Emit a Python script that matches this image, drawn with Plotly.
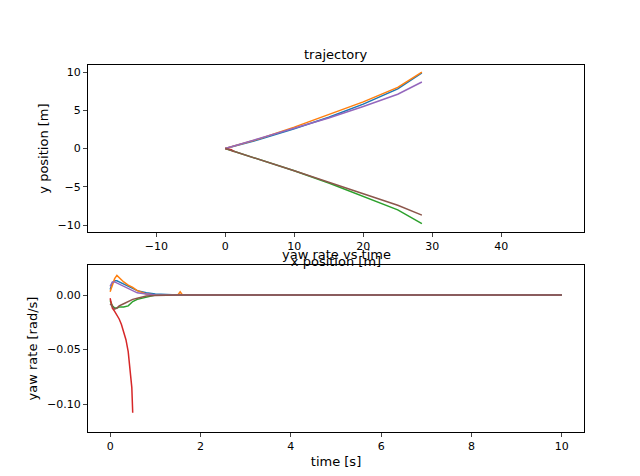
import plotly.graph_objects as go

colors = ["#1f77b4", "#ff7f0e", "#2ca02c", "#d62728", "#9467bd", "#8c564b"]

# trajectories (x, y) per run
traj_x = [0, 5, 10, 15, 20, 25, 28.5]
traj_y = [
    [0, 1.2, 2.6, 4.1, 5.8, 7.8, 9.9],
    [0, 1.3, 2.8, 4.4, 6.1, 8.0, 10.0],
    [0, -1.4, -2.9, -4.5, -6.2, -8.0, -9.8],
    None,
    [0, 1.3, 2.7, 4.0, 5.5, 7.1, 8.7],
    [0, -1.4, -2.9, -4.4, -5.9, -7.4, -8.7],
]
red_x = [0, 0.5, 0.9, 1.1, 1.3]
red_y = [0, -0.05, -0.15, -0.3, -0.4]

# yaw rates
t = [0, 0.05, 0.1, 0.15, 0.2, 0.3, 0.4, 0.5, 0.6, 0.8, 1.0, 1.5, 10]
t_orange = [0, 0.05, 0.1, 0.15, 0.2, 0.3, 0.4, 0.5, 0.6, 0.8, 1.0, 1.5, 1.55, 1.6, 10]
yaw = [
    [0.005, 0.011, 0.013, 0.013, 0.012, 0.010, 0.008, 0.006, 0.004, 0.002, 0.001, 0, 0],
    [0.003, 0.010, 0.015, 0.018, 0.016, 0.012, 0.009, 0.007, 0.004, 0.001, 0, 0, 0.003, 0, 0],
    [-0.005, -0.010, -0.012, -0.012, -0.011, -0.011, -0.010, -0.006, -0.004, -0.002, 0, 0, 0],
    None,
    [0.008, 0.012, 0.012, 0.011, 0.010, 0.008, 0.006, 0.004, 0.002, 0.001, 0, 0, 0],
    [-0.008, -0.011, -0.013, -0.012, -0.010, -0.008, -0.006, -0.004, -0.003, -0.001, -0.0005, 0, 0],
]
t_red = [0, 0.05, 0.1, 0.15, 0.2, 0.25, 0.3, 0.35, 0.4, 0.45, 0.48, 0.5]
yaw_red = [-0.003, -0.012, -0.015, -0.018, -0.022, -0.027, -0.033, -0.041, -0.052, -0.070, -0.085, -0.108]

fig = go.Figure()
for i, c in enumerate(colors):
    if i == 3:
        fig.add_trace(go.Scatter(x=red_x, y=red_y, mode="lines", line=dict(color=c, width=1.5), xaxis="x", yaxis="y"))
        fig.add_trace(go.Scatter(x=t_red, y=yaw_red, mode="lines", line=dict(color=c, width=1.5), xaxis="x2", yaxis="y2"))
    else:
        fig.add_trace(go.Scatter(x=traj_x, y=traj_y[i], mode="lines", line=dict(color=c, width=1.5), xaxis="x", yaxis="y"))
        tt = t_orange if i == 1 else t
        fig.add_trace(go.Scatter(x=tt, y=yaw[i], mode="lines", line=dict(color=c, width=1.5), xaxis="x2", yaxis="y2"))

ax = dict(showline=True, linecolor="black", mirror=True, ticks="outside", ticklen=4,
          showgrid=False, zeroline=False, tickfont=dict(size=11), automargin=False)
fig.update_layout(
    width=640, height=476, margin=dict(l=0, r=0, t=0, b=0),
    plot_bgcolor="white", paper_bgcolor="white", showlegend=False,
    font=dict(family="DejaVu Sans", color="black", size=11),
    xaxis=dict(ax, domain=[0.125, 0.9], range=[-19.9, 52], tickvals=[-10, 0, 10, 20, 30, 40],
               title=dict(text="x position [m]", standoff=4), anchor="y"),
    yaxis=dict(ax, domain=[0.5294, 0.880], range=[-10.9, 10.9], tickvals=[-10, -5, 0, 5, 10],
               title=dict(text="y position [m]", standoff=6), anchor="x"),
    xaxis2=dict(ax, domain=[0.125, 0.9], range=[-0.49, 10.49], tickvals=[0, 2, 4, 6, 8, 10],
                title=dict(text="time [s]", standoff=4), anchor="y2"),
    yaxis2=dict(ax, domain=[0.1092, 0.460], range=[-0.1257, 0.0275], tickvals=[-0.10, -0.05, 0.0],
                tickformat=".2f", title=dict(text="yaw rate [rad/s]", standoff=6), anchor="x2"),
    annotations=[
        dict(text="trajectory", x=0.5125, y=0.882, xref="paper", yref="paper", showarrow=False,
             yanchor="bottom", font=dict(size=13)),
        dict(text="yaw rate vs time", x=0.5125, y=0.462, xref="paper", yref="paper", showarrow=False,
             yanchor="bottom", font=dict(size=13)),
    ],
)
fig.write_html("out.html")
